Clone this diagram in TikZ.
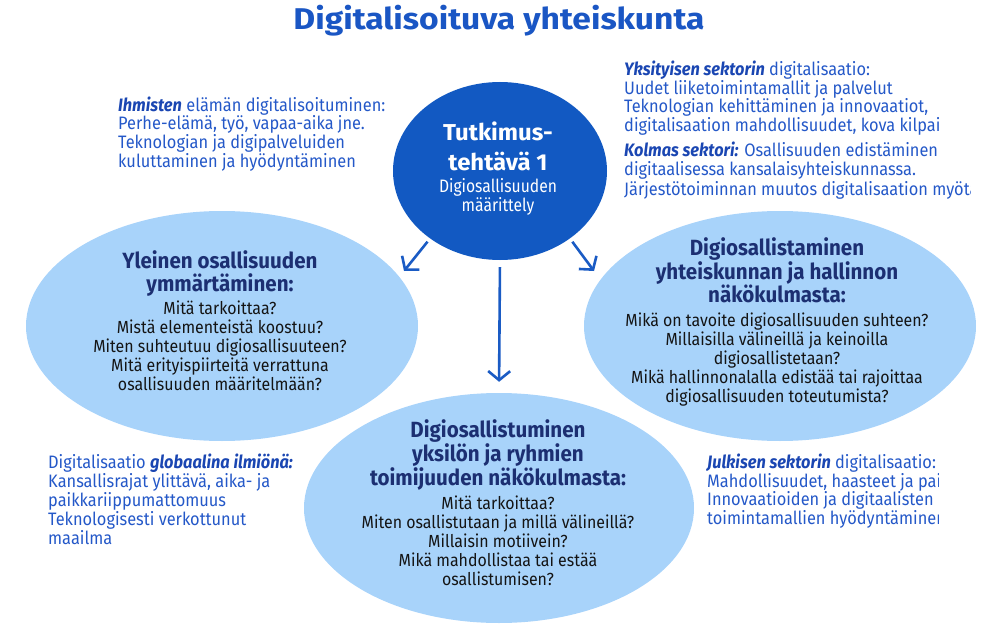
\documentclass[tikz,border=0pt]{standalone}
\usepackage{fontspec}
\setmainfont{Fira Sans}[FakeStretch=0.91]
\newfontfamily\titlefont{Fira Sans}[FakeStretch=1.12]
\newfontfamily\headfont{Fira Sans}[FakeStretch=0.935]
\newfontfamily\circfont{Fira Sans}[FakeStretch=1.04]
\newfontfamily\circsub{Fira Sans}[FakeStretch=0.87]
\usetikzlibrary{shapes.geometric,arrows.meta}
\definecolor{titleblue}{HTML}{1A56C4}
\definecolor{circleblue}{HTML}{1259C2}
\definecolor{lightell}{HTML}{A8D3FA}
\definecolor{sideblue}{HTML}{2458C8}
\definecolor{sidebold}{HTML}{1A46B2}
\definecolor{headnavy}{HTML}{1C2F72}
\definecolor{bodyblack}{HTML}{141414}
\definecolor{arrowblue}{HTML}{1A5BC4}
\begin{document}
\begin{tikzpicture}[x=1pt,y=-1pt,
  side/.style={anchor=base west, align=left, inner sep=0pt, text=sideblue,
    font=\fontsize{18}{18.8}\selectfont},
  ell/.style={ellipse, fill=lightell, inner sep=0pt},
  head/.style={anchor=base, align=center, inner sep=0pt, text=headnavy,
    font=\headfont\fontsize{22}{22.7}\selectfont\bfseries},
  body/.style={anchor=base, align=center, inner sep=0pt, text=bodyblack,
    font=\fontsize{17.5}{18.9}\selectfont},
  arr/.style={draw=arrowblue, line width=2.6pt, -{Straight Barb[length=9pt,width=22pt]}}
]
\useasboundingbox (0,0) rectangle (1002,634);
% title
\node[anchor=base, inner sep=0pt, text=titleblue, font=\titlefont\fontsize{30}{32}\selectfont\bfseries]
  (title) at (499,30) {Digitalisoituva yhteiskunta};
% shapes
\node[ell, minimum width=392pt, minimum height=230pt] (left) at (222,326) {};
\node[ell, minimum width=392pt, minimum height=230pt] (right) at (780,326) {};
\node[ell, minimum width=390pt, minimum height=230pt] (bottom) at (499,508) {};
\node[ellipse, fill=circleblue, inner sep=0pt, minimum width=214pt, minimum height=178pt] (top) at (500,171) {};
% circle text
\node[anchor=base, align=center, inner sep=0pt, text=white, font=\circfont\fontsize{23}{30}\selectfont\bfseries]
  (t1) at (498,170) {Tutkimus-\\tehtävä 1};
\node[anchor=base, align=center, inner sep=0pt, text=white, font=\circsub\fontsize{18}{16.2}\selectfont]
  (t2) at (498,211.5) {Digiosallisuuden\\määrittely};
% arrows
\coordinate (lt) at (404,271);
\coordinate (rt) at (594,271);
\draw[arr, shorten <=4pt] (top.-136) -- (lt);
\draw[arr, shorten <=4pt] (top.-44) -- (rt);
\draw[arr, shorten <=7pt, shorten >=11pt] (top.south) -- (bottom.north);
% ellipse texts
\node[head, font=\headfont\fontsize{22}{23.3}\selectfont\bfseries] (lh) at (220,291.6) {Yleinen osallisuuden\\ymmärtäminen:};
\node[body, font=\fontsize{17.5}{19}\selectfont] (lb) at (220,390.3) {Mitä tarkoittaa?\\Mistä elementeistä koostuu?\\Miten suhteutuu digiosallisuuteen?\\Mitä erityispiirteitä verrattuna\\osallisuuden määritelmään?};
\node[head] (rh) at (777,302) {Digiosallistaminen\\yhteiskunnan ja hallinnon\\näkökulmasta:};
\node[body] (rb) at (777,402) {Mikä on tavoite digiosallisuuden suhteen?\\Millaisilla välineillä ja keinoilla\\digiosallistetaan?\\Mikä hallinnonalalla edistää tai rajoittaa\\digiosallisuuden toteutumista?};
\node[head] (bh) at (498,485) {Digiosallistuminen\\yksilön ja ryhmien\\toimijuuden näkökulmasta:};
\node[body] (bb) at (498,585) {Mitä tarkoittaa?\\Miten osallistutaan ja millä välineillä?\\Millaisin motiivein?\\Mikä mahdollistaa tai estää\\osallistumisen?};
% side texts
\node[side] (ihm) at (118,167.4) {\textcolor{sidebold}{\bfseries\itshape Ihmisten} elämän digitalisoituminen:\\Perhe-elämä, työ, vapaa-aika jne.\\Teknologian ja digipalveluiden\\kuluttaminen ja hyödyntäminen};
\begin{scope}
\clip (600,50) rectangle (938,140);
\node[side] (yks) at (624,131.7) {\textcolor{sidebold}{\bfseries\itshape Yksityisen sektorin} digitalisaatio:\\Uudet liiketoimintamallit ja palvelut\\Teknologian kehittäminen ja innovaatiot,\\digitalisaation mahdollisuudet, kova kilpailu};
\end{scope}
\begin{scope}
\clip (600,140) rectangle (970,210);
\node[side, font=\fontsize{18}{19.4}\selectfont] (kol) at (624,195.3) {\textcolor{sidebold}{\bfseries\itshape Kolmas sektori:} Osallisuuden edistäminen\\digitaalisessa kansalaisyhteiskunnassa.\\Järjestötoiminnan muutos digitalisaation myötä};
\end{scope}
\node[side, font=\fontsize{18}{18.9}\selectfont] (glob) at (48,544) {Digitalisaatio \textcolor{sidebold}{\bfseries\itshape globaalina ilmiönä:}\\Kansallisrajat ylittävä, aika- ja\\paikkariippumattomuus\\Teknologisesti verkottunut\\maailma};
\begin{scope}
\clip (690,450) rectangle (938,540);
\node[side] (julk) at (707,524.7) {\textcolor{sidebold}{\bfseries\itshape Julkisen sektorin} digitalisaatio:\\Mahdollisuudet, haasteet ja paineet\\Innovaatioiden ja digitaalisten\\toimintamallien hyödyntäminen};
\end{scope}
\end{tikzpicture}
\end{document}
